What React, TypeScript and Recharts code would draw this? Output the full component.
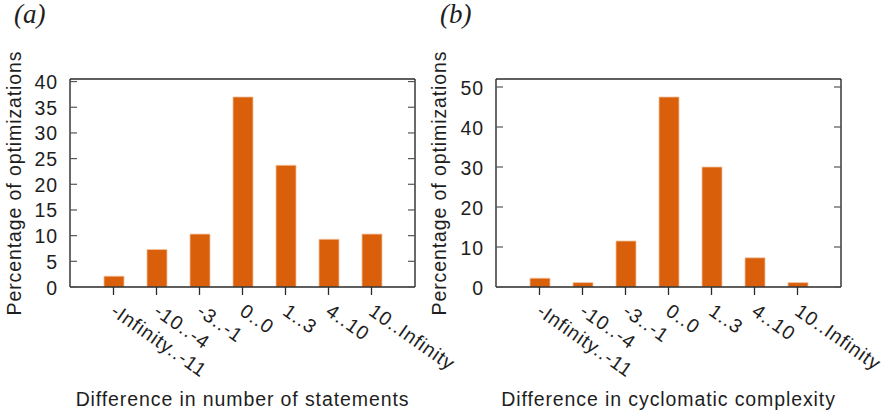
import React from 'react';
import { BarChart, Bar, XAxis, YAxis, Label } from 'recharts';

const categories = ['-Infinity..-11', '-10..-4', '-3..-1', '0..0', '1..3', '4..10', '10..Infinity'];
const statementsValues = [2.1, 7.3, 10.3, 37.0, 23.7, 9.3, 10.3];
const complexityValues = [2.2, 1.1, 11.5, 47.5, 30.0, 7.3, 1.1];
const statementsTicks = [0, 5, 10, 15, 20, 25, 30, 35, 40];
const complexityTicks = [0, 10, 20, 30, 40, 50];

const FONT = 'Liberation Sans, Arial, Helvetica, sans-serif';
const TEXT = '#1e1e1e';
const FRAME = '#2a2a2a';
const BAR = '#d95f0b';
const FS = 19.5;
const LS = 0.9;
const M = 12;

const textStyle = { fontFamily: FONT, fontSize: FS, letterSpacing: LS, fill: TEXT };

const LeftTick = (props: any) => {
  const { x, y, payload } = props;
  return (
    <g>
      <line x1={x + M} x2={x + M + 7} y1={y} y2={y} stroke="#555" strokeWidth={1.2} />
      <text x={x} y={y} dy={7.5} textAnchor="end" style={textStyle}>
        {payload.value}
      </text>
    </g>
  );
};

const RightTick = (props: any) => {
  const { x, y } = props;
  return <line x1={x} x2={x - 7} y1={y} y2={y} stroke="#555" strokeWidth={1.2} />;
};

const BottomTick = (props: any) => {
  const { x, y, payload } = props;
  const tx = x - 4;
  const ty = y + 19;
  return (
    <text x={tx} y={ty} transform={`rotate(35, ${tx}, ${ty})`} textAnchor="start" style={textStyle}>
      {payload.value}
    </text>
  );
};

type PanelProps = {
  values: number[];
  ticks: number[];
  yMax: number;
  xTitle: string;
  width: number;
  yAxisWidth: number;
  marginRight: number;
  labelOffset: number;
};

const Panel = ({ values, ticks, yMax, xTitle, width, yAxisWidth, marginRight, labelOffset }: PanelProps) => {
  const data = categories.map((c, i) => ({ name: c, value: values[i] }));
  return (
    <BarChart
      width={width}
      height={415}
      data={data}
      margin={{ top: 78, right: marginRight - 1, bottom: 0, left: 0 }}
      barCategoryGap={0}
    >
      <XAxis
        xAxisId="bottom"
        dataKey="name"
        type="category"
        height={128}
        padding={{ left: 22, right: 22 }}
        interval={0}
        tickSize={8}
        tickMargin={0}
        tickLine={{ stroke: FRAME, strokeWidth: 1.3 }}
        axisLine={{ stroke: FRAME, strokeWidth: 1.4 }}
        tick={<BottomTick />}
      >
        <Label value={xTitle} position="insideBottom" offset={9} style={{ ...textStyle, textAnchor: 'middle' }} />
      </XAxis>
      <XAxis
        xAxisId="top"
        dataKey="name"
        orientation="top"
        height={1}
        tick={false}
        tickLine={false}
        axisLine={{ stroke: FRAME, strokeWidth: 1.4 }}
      />
      <YAxis
        yAxisId="left"
        width={yAxisWidth}
        domain={[0, yMax]}
        ticks={ticks}
        interval={0}
        allowDataOverflow
        tickSize={0}
        tickMargin={M}
        tickLine={false}
        axisLine={{ stroke: FRAME, strokeWidth: 1.4 }}
        tick={<LeftTick />}
      >
        <Label
          value="Percentage of optimizations"
          angle={-90}
          position="insideLeft"
          offset={labelOffset}
          style={{ ...textStyle, textAnchor: 'middle' }}
        />
      </YAxis>
      <YAxis
        yAxisId="right"
        orientation="right"
        width={1}
        domain={[0, yMax]}
        ticks={ticks}
        interval={0}
        allowDataOverflow
        tickSize={0}
        tickMargin={0}
        tickLine={false}
        axisLine={{ stroke: FRAME, strokeWidth: 1.4 }}
        tick={<RightTick />}
      />
      <Bar
        xAxisId="bottom"
        yAxisId="left"
        dataKey="value"
        fill={BAR}
        stroke="#f2c3a0"
        strokeWidth={0.8}
        barSize={20}
        isAnimationActive={false}
      />
    </BarChart>
  );
};

export default function App() {
  return (
    <div style={{ position: 'absolute', left: 0, top: 0, width: 886, height: 415, background: '#fff' }}>
      <div style={{ position: 'absolute', left: 0, top: 0 }}>
        <Panel
          values={statementsValues}
          ticks={statementsTicks}
          yMax={40.5}
          xTitle="Difference in number of statements"
          width={470}
          yAxisWidth={70}
          marginRight={55}
          labelOffset={14}
        />
      </div>
      <div style={{ position: 'absolute', left: 420, top: 0 }}>
        <Panel
          values={complexityValues}
          ticks={complexityTicks}
          yMax={52}
          xTitle="Difference in cyclomatic complexity"
          width={466}
          yAxisWidth={76}
          marginRight={45}
          labelOffset={19}
        />
      </div>
      <svg width={886} height={40} style={{ position: 'absolute', left: 0, top: 0, pointerEvents: 'none' }}>
        <text x={14} y={23} style={{ fontFamily: 'Liberation Serif, Times New Roman, serif', fontStyle: 'italic', fontSize: 27, fill: TEXT }}>
          (a)
        </text>
        <text x={440} y={23} style={{ fontFamily: 'Liberation Serif, Times New Roman, serif', fontStyle: 'italic', fontSize: 27, fill: TEXT }}>
          (b)
        </text>
      </svg>
    </div>
  );
}
